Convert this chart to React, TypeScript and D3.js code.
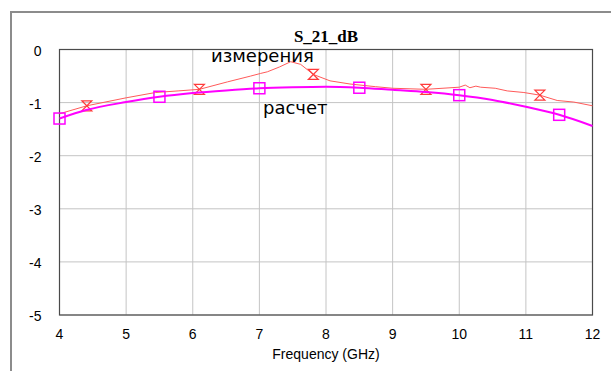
import * as d3 from "d3";

// S_21 in dB vs frequency
const calcFreq = [4.0, 4.4, 5.0, 5.5, 6.0, 6.5, 7.0, 7.5, 8.0, 8.5, 9.0, 9.5, 10.0, 10.5, 11.0, 11.5, 12.0];
const calcDb = [-1.3, -1.14, -0.99, -0.89, -0.82, -0.77, -0.73, -0.71, -0.7, -0.72, -0.76, -0.8, -0.86, -0.95, -1.08, -1.23, -1.44];
const calcMarkers = [4.0, 5.5, 7.0, 8.5, 10.0, 11.5];

const measFreq = [4.0, 4.41, 5.0, 5.44, 5.78, 6.1, 6.52, 6.87, 7.02, 7.12, 7.3, 7.47, 7.62, 7.81, 8.06, 8.36, 8.74, 9.0, 9.5, 10.0, 10.09, 10.16, 10.25, 10.32, 10.54, 10.72, 10.97, 11.21, 11.47, 11.72, 12.0];
const measDb = [-1.21, -1.06, -0.91, -0.81, -0.78, -0.75, -0.61, -0.5, -0.45, -0.42, -0.33, -0.23, -0.28, -0.47, -0.59, -0.65, -0.7, -0.73, -0.75, -0.71, -0.67, -0.72, -0.69, -0.71, -0.73, -0.78, -0.81, -0.86, -0.96, -0.99, -1.06];
const measMarkers = [4.41, 6.1, 7.81, 9.5, 11.21];

const xTicks = [4, 5, 6, 7, 8, 9, 10, 11, 12];
const yTicks = [0, -1, -2, -3, -4, -5];

const W = 611;
const H = 371;
const left = 59.5;
const right = 592.5;
const top = 49.5;
const bottom = 315;

const x = d3.scaleLinear().domain([4, 12]).range([left, right]);
const y = d3.scaleLinear().domain([0, -5]).range([top, bottom]);

function valueAt(xs: number[], ys: number[], f: number) {
  const i = Math.min(Math.max(d3.bisectLeft(xs, f), 1), xs.length - 1);
  const t = (f - xs[i - 1]) / (xs[i] - xs[i - 1]);
  return ys[i - 1] + t * (ys[i] - ys[i - 1]);
}

export default function App() {
  const measLine = d3
    .line<number>()
    .x((_, i) => x(measFreq[i]))
    .y((d) => y(d))(measDb);
  const calcLine = d3
    .line<number>()
    .x((_, i) => x(calcFreq[i]))
    .y((d) => y(d))
    .curve(d3.curveMonotoneX)(calcDb);

  const sans = "'Liberation Sans', Arial, sans-serif";

  return (
    <svg width={W} height={H} style={{ position: "absolute", left: 0, top: 0, background: "#fff" }}>
      {/* outer frame */}
      <path d={`M11,${H} V12 H${W}`} fill="none" stroke="#8c8c8c" strokeWidth={2} />

      <text x={326} y={42} textAnchor="middle" fontFamily="'Liberation Serif', 'Times New Roman', serif" fontWeight="bold" fontSize={17}>
        S_21_dB
      </text>

      {/* grid */}
      {xTicks.map((t) => (
        <line key={"gx" + t} x1={x(t)} x2={x(t)} y1={top} y2={bottom} stroke="#c4c4c4" strokeWidth={1} />
      ))}
      {yTicks.map((t) => (
        <line key={"gy" + t} x1={left} x2={right} y1={y(t)} y2={y(t)} stroke="#c4c4c4" strokeWidth={1} />
      ))}
      <rect x={left} y={top} width={right - left} height={bottom - top} fill="none" stroke="#4a4a4a" strokeWidth={1.2} />

      {/* tick labels */}
      {yTicks.map((t) => (
        <text key={"ly" + t} x={41.5} y={y(t) + 6} textAnchor="end" fontFamily={sans} fontSize={14}>
          {t}
        </text>
      ))}
      {xTicks.map((t) => (
        <text key={"lx" + t} x={x(t)} y={339} textAnchor="middle" fontFamily={sans} fontSize={14}>
          {t}
        </text>
      ))}
      <text x={326} y={359} textAnchor="middle" fontFamily={sans} fontSize={14}>
        Frequency (GHz)
      </text>

      {/* measured */}
      <path d={measLine ?? ""} fill="none" stroke="#ff5a5a" strokeWidth={1} />
      {measMarkers.map((f) => {
        const cx = x(f);
        const cy = y(valueAt(measFreq, measDb, f));
        const s = 5;
        return (
          <path
            key={"mm" + f}
            d={`M${cx - s},${cy - s} H${cx + s} L${cx - s},${cy + s} H${cx + s} Z`}
            fill="none"
            stroke="#ff3a3a"
            strokeWidth={1.2}
          />
        );
      })}

      {/* calculated */}
      <path d={calcLine ?? ""} fill="none" stroke="#ff00ff" strokeWidth={2} />
      {calcMarkers.map((f) => {
        const cx = x(f);
        const cy = y(valueAt(calcFreq, calcDb, f));
        return (
          <rect key={"cm" + f} x={cx - 5.5} y={cy - 5.5} width={11} height={11} fill="none" stroke="#ff00ff" strokeWidth={1.5} />
        );
      })}

      <text x={211} y={62} fontFamily="'DejaVu Sans', Verdana, sans-serif" fontSize={18}>
        измерения
      </text>
      <text x={263} y={114} fontFamily="'DejaVu Sans', Verdana, sans-serif" fontSize={18}>
        расчет
      </text>
    </svg>
  );
}
